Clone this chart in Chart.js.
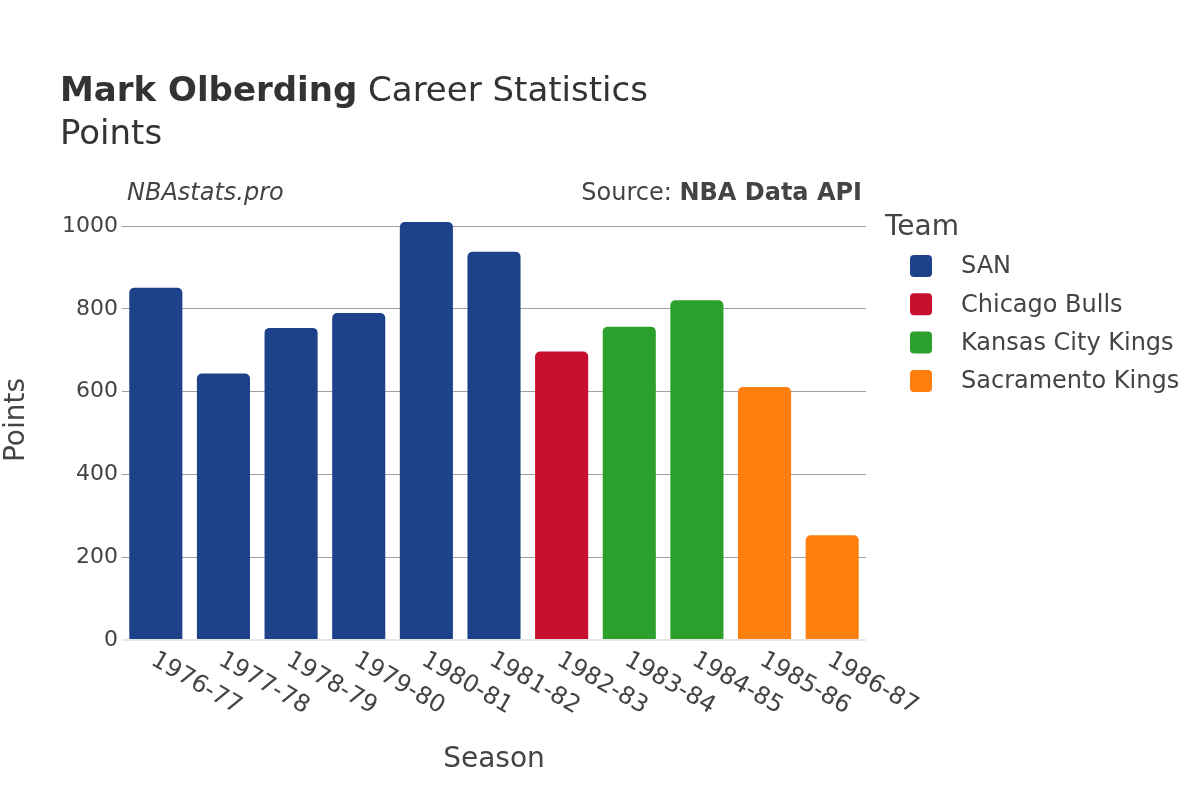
<!DOCTYPE html>
<html>
<head>
<meta charset="utf-8">
<script src="https://cdn.jsdelivr.net/npm/chart.js@4.4.1/dist/chart.umd.min.js"></script>
<style>
  html, body { margin: 0; padding: 0; background: #fff; }
  #wrap { width: 1200px; height: 800px; position: relative; }
</style>
</head>
<body>
<div id="wrap"><canvas id="c" width="1200" height="800"></canvas></div>
<script>
const seasons = ["1976-77","1977-78","1978-79","1979-80","1980-81","1981-82","1982-83","1983-84","1984-85","1985-86","1986-87"];
const points = [851, 644, 754, 790, 1010, 938, 697, 757, 821, 611, 253];
const seasonTeam = ["SAN","SAN","SAN","SAN","SAN","SAN","Chicago Bulls","Kansas City Kings","Kansas City Kings","Sacramento Kings","Sacramento Kings"];
const teams = ["SAN","Chicago Bulls","Kansas City Kings","Sacramento Kings"];
const teamColors = ["#1D428A","#C8102E","#2CA02C","#FF7F0E"];
const yTicks = [0, 200, 400, 600, 800, 1000];

const FONT = "'DejaVu Sans', 'Noto Sans', sans-serif";

const datasets = teams.map((t, k) => ({
  label: t,
  data: points.map((v, i) => seasonTeam[i] === t ? v : null),
  backgroundColor: teamColors[k],
  borderRadius: 5,
  borderSkipped: 'bottom',
  grouped: false,
  categoryPercentage: 1.0,
  barPercentage: 0.785
}));

const decor = {
  id: 'decor',
  afterDraw(chart) {
    const ctx = chart.ctx;
    const ca = chart.chartArea;
    ctx.save();
    // Title
    ctx.fillStyle = '#333';
    ctx.textBaseline = 'alphabetic';
    ctx.textAlign = 'left';
    ctx.font = "bold 34px " + FONT;
    const bold = "Mark Olberding";
    ctx.fillText(bold, 60, 101);
    const bw = ctx.measureText(bold).width;
    ctx.font = "34px " + FONT;
    ctx.fillText(" Career Statistics", 60 + bw, 101);
    ctx.fillText("Points", 60, 144);
    // watermark
    ctx.fillStyle = '#444';
    ctx.font = "italic 24px " + FONT;
    ctx.fillText("NBAstats.pro", 127, 200);
    ctx.textAlign = 'right';
    ctx.font = "bold 24px " + FONT;
    const src = "NBA Data API";
    ctx.fillText(src, 862, 200);
    const sw = ctx.measureText(src).width;
    ctx.font = "24px " + FONT;
    ctx.fillText("Source: ", 862 - sw, 200);
    // x tick labels (rotated 30deg clockwise)
    const xs = chart.scales.x;
    ctx.fillStyle = '#444';
    ctx.font = "24px " + FONT;
    ctx.textAlign = 'left';
    ctx.textBaseline = 'top';
    seasons.forEach((s, i) => {
      const x = xs.getPixelForValue(i);
      ctx.save();
      ctx.translate(x + 3, ca.bottom + 8);
      ctx.rotate(Math.PI / 6);
      ctx.fillText(s, 0, 0);
      ctx.restore();
    });
    // axis titles
    ctx.font = "28px " + FONT;
    ctx.textAlign = 'center';
    ctx.textBaseline = 'middle';
    ctx.fillText("Season", (ca.left + ca.right) / 2, 760);
    ctx.save();
    ctx.translate(17, 420);
    ctx.rotate(-Math.PI / 2);
    ctx.fillText("Points", 0, 0);
    ctx.restore();
    // legend
    ctx.textAlign = 'left';
    ctx.font = "28px " + FONT;
    ctx.fillStyle = '#444';
    ctx.fillText("Team", 885, 228);
    ctx.font = "24px " + FONT;
    chart.data.datasets.forEach((d, k) => {
      const cy = 266 + k * 38.3;
      ctx.fillStyle = d.backgroundColor;
      ctx.beginPath();
      ctx.roundRect(910, cy - 11, 22, 22, 4);
      ctx.fill();
      ctx.fillStyle = '#444';
      ctx.fillText(d.label, 961, cy + 1);
    });
    ctx.restore();
  }
};

new Chart(document.getElementById('c'), {
  type: 'bar',
  data: { labels: seasons, datasets },
  options: {
    responsive: false,
    animation: false,
    devicePixelRatio: 1,
    layout: { padding: { left: 0, right: 334, top: 200, bottom: 160 } },
    plugins: { legend: { display: false }, tooltip: { enabled: false } },
    scales: {
      x: {
        ticks: { display: false },
        grid: { display: false, drawTicks: false },
        border: { display: false }
      },
      y: {
        min: 0,
        max: 1063,
        afterBuildTicks(scale) { scale.ticks = yTicks.map(v => ({ value: v })); },
        afterFit(scale) { scale.width = 122; },
        ticks: { color: '#444', font: { family: FONT, size: 22 }, padding: 4, callback: v => String(v) },
        grid: {
          drawTicks: false,
          color: ctx => ctx.tick && ctx.tick.value === 0 ? '#e6e6e6' : '#a0a0a0',
          lineWidth: ctx => ctx.tick && ctx.tick.value === 0 ? 2 : 1
        },
        border: { display: false }
      }
    }
  },
  plugins: [decor]
});
</script>
</body>
</html>
